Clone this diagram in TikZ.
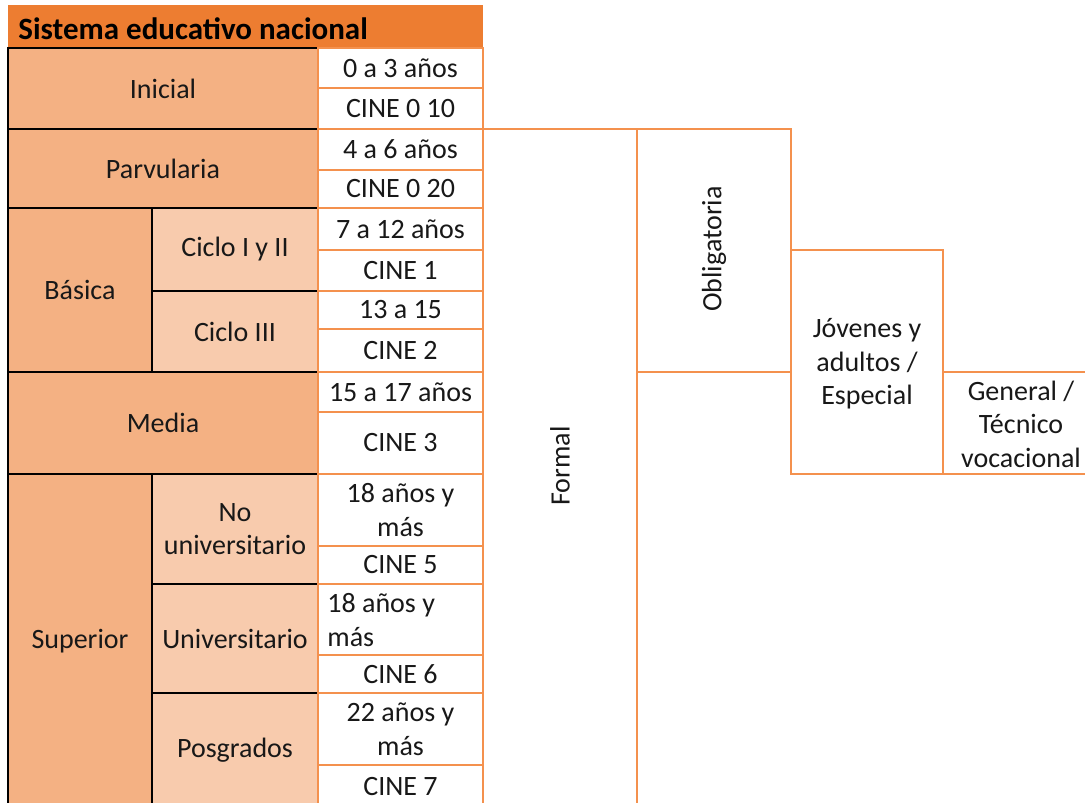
\documentclass[tikz,border=0pt]{standalone}
\usepackage{fontspec}
\setmainfont{Carlito}

\definecolor{heador}{HTML}{ED7D31}
\definecolor{catfill}{HTML}{F4B183}
\definecolor{subfill}{HTML}{F8CBAD}
\definecolor{lineor}{HTML}{F4914E}
\definecolor{txt}{HTML}{181818}

\tikzset{
  catbox/.style={draw=black, line width=1pt, fill=catfill},
  subbox/.style={draw=black, line width=1pt, fill=subfill},
  agebox/.style={draw=lineor, line width=1pt, fill=white},
  orline/.style={draw=lineor, line width=1pt},
  celltext/.style={text=txt, font=\fontsize{14}{16.8}\selectfont, align=center, inner sep=0pt},
}

\begin{document}
\begin{tikzpicture}[x=0.5pt,y=-0.5pt]
    \useasboundingbox (0,0) rectangle (1085,802);

    % Header
    \fill[heador] (8,5) rectangle (483,48);
    \node[celltext, text=black, font=\fontsize{15.5}{18}\selectfont\bfseries, anchor=west] (titulo) at (18,29) {Sistema educativo nacional};

    % Levels
    \foreach \name/\xa/\xb/\ya/\yb/\txt in {inicial/8/318/48/129/Inicial, parvularia/8/318/129/208/Parvularia, basica/8/152/208/372/Básica, media/8/318/372/474/Media, superior/8/152/474/808/Superior} {
        \draw[catbox] (\xa,\ya) rectangle (\xb,\yb);
        \node[celltext] (\name) at ({(\xa+\xb)/2},{(\ya+\yb)/2}) {\txt};
    }

    % Sub levels
    \foreach \name/\ya/\yb/\txt in {cicloa/208/291/Ciclo I y II, ciclob/291/372/Ciclo III, nouniv/474/584/{No\\universitario}, univ/584/693/Universitario, posgrado/693/808/Posgrados} {
        \draw[subbox] (152,\ya) rectangle (318,\yb);
        \node[celltext] (\name) at (235,{(\ya+\yb)/2}) {\txt};
    }

    % Ages and CINE levels
    \foreach \name/\ya/\yb/\txt in {edadi/48/88/0 a 3 años, cinei/88/129/CINE 0 10, edadp/129/170/4 a 6 años, cinep/170/208/CINE 0 20, edada/208/250/7 a 12 años, cinea/250/291/CINE 1, edadb/291/329/13 a 15, cineb/329/372/CINE 2, edadm/372/412/15 a 17 años, cinem/412/474/CINE 3, edadn/474/546/{18 años y\\más}, cinen/546/584/CINE 5, edadu/584/655/{}, cineu/655/693/CINE 6, edadg/693/765/{22 años y\\más}, cineg/765/808/CINE 7} {
        \draw[agebox] (318,\ya) rectangle (483,\yb);
        \node[celltext] (\name) at (400.5,{(\ya+\yb)/2}) {\txt};
    }
    \node[celltext, align=left, anchor=west] (edadutxt) at (327,620) {18 años y\\más};

    % Formal / Obligatoria / Jovenes / General
    \draw[orline] (483,129) -- (791,129) -- (791,474) -- (1085,474);
    \draw[orline] (637,129) -- (637,808);
    \draw[orline] (637,372) -- (791,372);
    \draw[orline] (791,250) -- (943,250) -- (943,474);
    \draw[orline] (943,372) -- (1085,372);

    \node[celltext, rotate=90] (formal) at (560,466) {Formal};
    \node[celltext, rotate=90] (obligatoria) at (714,249) {Obligatoria};
    \node[celltext] (jovenes) at (867,364) {Jóvenes y\\adultos /\\Especial};
    \node[celltext] (general) at (1021,424) {General /\\Técnico\\vocacional};
\end{tikzpicture}
\end{document}
